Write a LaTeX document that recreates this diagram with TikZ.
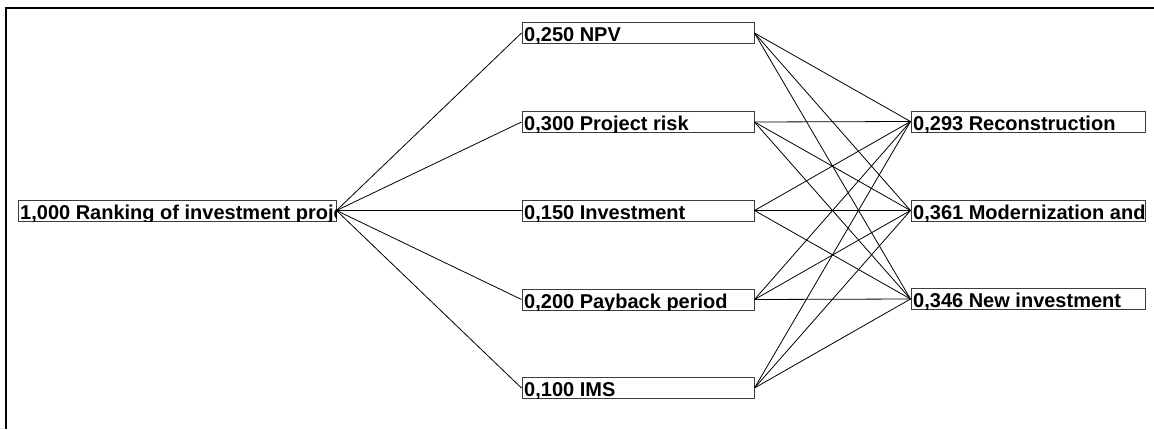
\documentclass[tikz,border=0pt]{standalone}
\usepackage{fontspec}
\setmainfont{Liberation Sans}
\usetikzlibrary{calc}
\definecolor{boxgray}{RGB}{60,60,60}
\begin{document}
\begin{tikzpicture}[x=1pt,y=-1pt,
  box/.style={draw=boxgray, line width=1pt, fill=white, inner sep=0pt, minimum height=21pt},
  midbox/.style={box, minimum width=232pt},
  rightbox/.style={box, minimum width=234pt},
  lbl/.style={anchor=base west, inner sep=0pt, font=\bfseries\fontsize{20}{20}\selectfont},
  link/.style={draw=black, line width=0.8pt},
  frame/.style={draw=black, line width=2pt}]
\useasboundingbox (0,0) rectangle (1154,429);
% frame
\coordinate (f1) at (5,8);
\coordinate (f2) at (1154,8);
\coordinate (f3) at (6,7);
\coordinate (f4) at (6,429);
\draw[frame] (f1) -- (f2);
\draw[frame] (f3) -- (f4);
% boxes
\node[box, minimum width=318pt] (root) at (177,210.5) {};
\node[midbox] (npv) at (638,33) {};
\node[midbox] (risk) at (638,122) {};
\node[midbox] (inv) at (638,210.5) {};
\node[midbox] (pay) at (638,299.5) {};
\node[midbox] (ims) at (638,388) {};
\node[rightbox] (rec) at (1028,121.5) {};
\node[rightbox] (mod) at (1028,210.5) {};
\node[rightbox] (new) at (1028,299) {};
% connectors
\foreach \m in {npv,risk,inv,pay,ims}{
  \draw[link] (root.east) -- (\m.west);
  \foreach \r in {rec,mod,new}{
    \draw[link] (\m.east) -- (\r.west);
  }
}
% labels (clipped to their boxes)
\foreach \b/\t in {root/{1,000 Ranking of investment projects},
                   npv/{0,250 NPV},
                   risk/{0,300 Project risk},
                   inv/{0,150 Investment},
                   pay/{0,200 Payback period},
                   ims/{0,100 IMS},
                   rec/{0,293 Reconstruction},
                   mod/{0,361 Modernization and expansion},
                   new/{0,346 New investment}}{
  \begin{scope}
    \clip ($(\b.south west)+(0.5,-0.5)$) rectangle ($(\b.north east)+(-0.5,0.5)$);
    \node[lbl] (t-\b) at ($(\b.south west)+(2.5,-2.5)$) {\t};
  \end{scope}
}
\end{tikzpicture}
\end{document}
